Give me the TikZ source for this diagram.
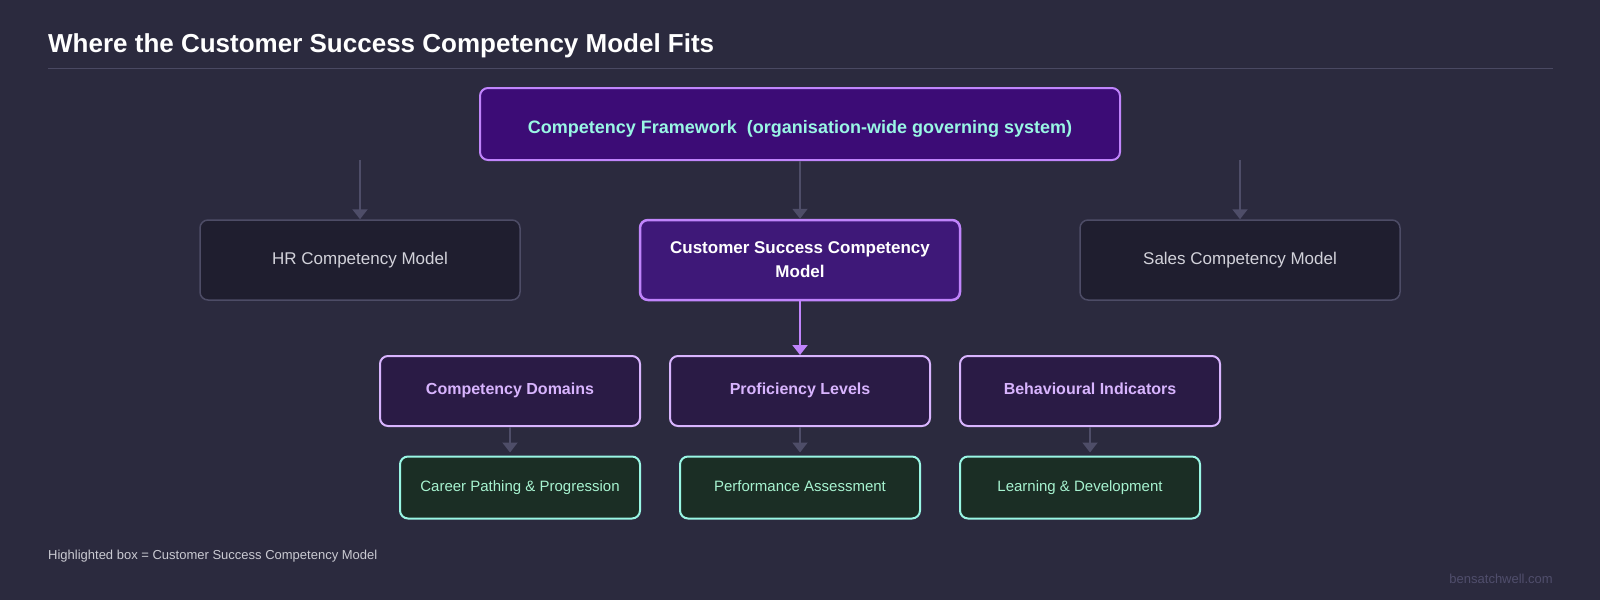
\documentclass[tikz,border=0pt]{standalone}
\usepackage{fontspec}
\setmainfont{Liberation Sans}
\usetikzlibrary{arrows.meta}
\definecolor{bg}{HTML}{2B2A3E}
\definecolor{rulec}{HTML}{4A4962}
\definecolor{fwfill}{HTML}{3C0C76}
\definecolor{purpleedge}{HTML}{C084FC}
\definecolor{mint}{HTML}{99F6E4}
\definecolor{csfill}{HTML}{3E1878}
\definecolor{modfill}{HTML}{1F1E2F}
\definecolor{modedge}{HTML}{4D4C66}
\definecolor{modtext}{HTML}{D2D2DA}
\definecolor{compfill}{HTML}{2A1B45}
\definecolor{lavender}{HTML}{D8B4FE}
\definecolor{outfill}{HTML}{1B2E25}
\definecolor{outtext}{HTML}{A7F3D0}
\definecolor{arrowgray}{HTML}{4E4D68}
\definecolor{notetext}{HTML}{CACAD2}
\definecolor{marktext}{HTML}{504E6C}
\begin{document}
\begin{tikzpicture}[x=1pt,y=-1pt,
  boxbase/.style={rounded corners=8pt, inner sep=0pt, align=center},
  frame/.style={boxbase, fill=fwfill, draw=purpleedge, line width=2pt,
    minimum width=640pt, minimum height=72pt, text=mint,
    text height=18.3pt, text depth=0pt,
    font=\bfseries\fontsize{18}{22}\selectfont},
  model/.style={boxbase, fill=modfill, draw=modedge, line width=1.5pt,
    minimum width=320pt, minimum height=80pt, text=modtext,
    text height=12.2pt, text depth=4pt,
    font=\fontsize{17}{20}\selectfont},
  csmodel/.style={boxbase, fill=csfill, draw=purpleedge, line width=2.5pt,
    minimum width=320pt, minimum height=80pt, text=white,
    font=\bfseries\fontsize{17}{24}\selectfont},
  compbox/.style={boxbase, fill=compfill, draw=lavender, line width=2pt,
    minimum width=260pt, minimum height=70pt, text=lavender,
    text height=11.5pt, text depth=4.4pt,
    font=\bfseries\fontsize{16}{19}\selectfont},
  outbox/.style={boxbase, fill=outfill, draw=mint, line width=2pt,
    minimum width=240pt, minimum height=62pt, text=outtext,
    text height=10.8pt, text depth=3pt,
    font=\fontsize{15}{18}\selectfont},
  grayarrow/.style={draw=arrowgray, line width=2pt, -{Triangle[width=15pt,length=10pt]}},
  purplearrow/.style={draw=purpleedge, line width=2pt, -{Triangle[width=15pt,length=10pt]}}
]
\fill[bg] (0,0) rectangle (1600,600);
\useasboundingbox (0,0) rectangle (1600,600);

\node[anchor=base west, inner sep=0pt, text=white, font=\bfseries\fontsize{26}{30}\selectfont] (title) at (48,52) {Where the Customer Success Competency Model Fits};
\coordinate (ruleL) at (48,68);
\coordinate (ruleR) at (1553,68);
\draw[rulec, line width=1pt] (ruleL) -- (ruleR);

\node[frame] (fw) at (800,124) {Competency Framework\ \ (organisation-wide governing system)};

\node[model] (hr) at (360,260) {HR Competency Model};
\node[csmodel] (cs) at (800,260) {Customer Success Competency\\Model};
\node[model] (sales) at (1240,260) {Sales Competency Model};

\coordinate (hrsrc) at (360,160);
\coordinate (salessrc) at (1240,160);
\draw[grayarrow] (hrsrc) -- (hr.north);
\draw[grayarrow] (fw.south) -- (cs.north);
\draw[grayarrow] (salessrc) -- (sales.north);

\node[compbox] (cd) at (510,391) {Competency Domains};
\node[compbox] (pl) at (800,391) {Proficiency Levels};
\node[compbox] (bi) at (1090,391) {Behavioural Indicators};

\draw[purplearrow] (cs.south) -- (pl.north);

\node[outbox] (cp) at (520,487.5) {Career Pathing \& Progression};
\node[outbox] (pa) at (800,487.5) {Performance Assessment};
\node[outbox] (ld) at (1080,487.5) {Learning \& Development};

\draw[grayarrow, shorten >=3pt] (cd.south) -- (cd.south |- cp.north);
\draw[grayarrow, shorten >=3pt] (pl.south) -- (pa.north);
\draw[grayarrow, shorten >=3pt] (bi.south) -- (bi.south |- ld.north);

\node[anchor=base west, inner sep=0pt, text=notetext, font=\fontsize{13}{16}\selectfont] (note) at (48,559) {Highlighted box = Customer Success Competency Model};
\node[anchor=base east, inner sep=0pt, text=marktext, font=\fontsize{13}{16}\selectfont] (mark) at (1553,583) {bensatchwell.com};
\end{tikzpicture}
\end{document}
